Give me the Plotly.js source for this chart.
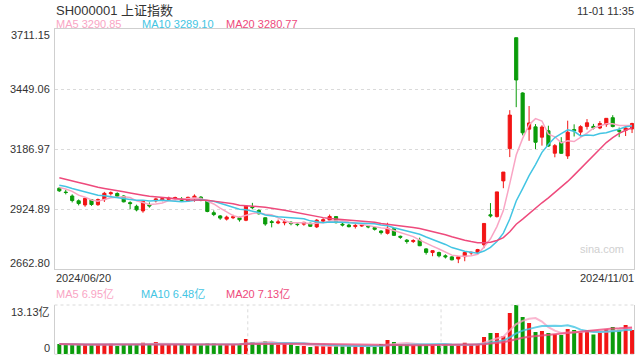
<!DOCTYPE html>
<html><head><meta charset="utf-8">
<script src="https://cdn.plot.ly/plotly-3.0.1.min.js"></script>
<style>html,body{margin:0;padding:0;background:#fff;}#chart{width:640px;height:360px;}</style>
</head><body><div id="chart"></div>
<script>
const dates = ['2024/06/20','2024/06/21','2024/06/24','2024/06/25','2024/06/26','2024/06/27','2024/06/28',
'2024/07/01','2024/07/02','2024/07/03','2024/07/04','2024/07/05','2024/07/08','2024/07/09','2024/07/10','2024/07/11','2024/07/12','2024/07/15','2024/07/16','2024/07/17','2024/07/18','2024/07/19','2024/07/22','2024/07/23','2024/07/24','2024/07/25','2024/07/26','2024/07/29','2024/07/30','2024/07/31',
'2024/08/01','2024/08/02','2024/08/05','2024/08/06','2024/08/07','2024/08/08','2024/08/09','2024/08/12','2024/08/13','2024/08/14','2024/08/15','2024/08/16','2024/08/19','2024/08/20','2024/08/21','2024/08/22','2024/08/23','2024/08/26','2024/08/27','2024/08/28','2024/08/29','2024/08/30',
'2024/09/02','2024/09/03','2024/09/04','2024/09/05','2024/09/06','2024/09/09','2024/09/10','2024/09/11','2024/09/12','2024/09/13','2024/09/18','2024/09/19','2024/09/20','2024/09/23','2024/09/24','2024/09/25','2024/09/26','2024/09/27','2024/09/30',
'2024/10/08','2024/10/09','2024/10/10','2024/10/11','2024/10/14','2024/10/15','2024/10/16','2024/10/17','2024/10/18','2024/10/21','2024/10/22','2024/10/23','2024/10/24','2024/10/25','2024/10/28','2024/10/29','2024/10/30','2024/10/31','2024/11/01'];

const opens = [3017,3000,2983,2962,2944,2967,2945,
2967,2993,2994,2983,2954,2938,2918,2945,2962,2966,2968,2970,2970,2961,2975,2978,2962,2910,2896,2882,2888,2888,2877,
2935,2920,2888,2871,2865,2866,2868,2860,2860,2864,2848,2873,2878,2893,2860,2856,2850,2852,2851,2845,2830,2820,
2840,2807,2790,2784,2790,2752,2736,2736,2722,2717,2708,2718,2734,2736,2770,2901,2893,3049,3190,
3674.40,3433,3275,3285,3240,3268,3170,3218,3158,3273,3262,3287,3287,3280,3295,3325,3270,3270,3276];

const highs = [3022,3010,2990,2968,2975,2970,2972,
3001,3003,2999,2986,2960,2945,2962,2955,2975,2977,2980,2980,2978,2980,2990,2983,2965,2920,2900,2897,2901,2893,2940,
2953,2925,2889,2878,2880,2882,2873,2864,2870,2866,2882,2886,2902,2895,2866,2861,2860,2865,2856,2848,2833,2866,
2843,2810,2795,2794,2801,2755,2746,2740,2728,2720,2720,2741,2740,2752,2863.13,2952,3000.95,3087.53,3358,
3674.40,3436,3376,3297,3292,3290,3210,3240,3312,3296,3292,3319,3298,3310,3323,3336,3282,3290,3303];

const lows = [3001,2990,2955,2942,2936,2940,2940,
2957,2985,2975,2955,2925,2916,2910,2932,2955,2960,2961,2964,2958,2958,2958,2960,2912,2895,2879,2876,2882,2871,2873,
2925,2902,2853,2846,2860,2855,2855,2851,2853,2848,2843,2869,2874,2863,2850,2846,2841,2848,2842,2832,2815,2815,
2809,2796,2775,2778,2764,2727,2720,2715,2710,2702,2689.70,2698,2726,2726,2755,2889,2889,3017,3153,
3371,3248,3224,3188,3203,3198,3152,3168,3145,3243,3245,3273,3274,3275,3285,3283,3240,3245,3258];

const closes = [3005.44,2998.14,2963.10,2950.00,2972.53,2945.85,2967.40,
2994.73,2997.01,2982.38,2957.57,2949.93,2922.45,2959.37,2939.36,2970.39,2971.30,2974.01,2976.30,2962.92,2977.13,2982.31,2964.22,2915.37,2901.95,2886.43,2890.90,2891.85,2879.30,2938.75,
2932.39,2905.34,2860.70,2867.28,2869.90,2869.83,2862.19,2858.20,2867.95,2850.65,2877.36,2879.43,2893.67,2866.66,2856.59,2848.77,2854.37,2855.52,2848.30,2837.43,2823.11,2842.21,
2811.04,2802.98,2784.28,2788.31,2765.81,2736.49,2744.19,2721.80,2717.12,2704.09,2717.28,2736.02,2736.81,2748.92,2863.13,2896.31,3000.95,3087.53,3336.50,
3489.78,3258.86,3301.93,3217.74,3284.32,3201.29,3202.95,3169.38,3261.56,3268.11,3285.87,3302.80,3280.26,3299.70,3322.20,3286.41,3266.24,3279.82,3299.59];

// closes of the 19 sessions before 2024/06/20 (for moving-average warm-up)
const priorCloses = [3116.39,3088.87,3124.04,3109.57,3111.02,3091.68,3086.81,3078.49,3091.20,3065.40,3048.79,3051.28,3028.05,3037.47,3028.92,3032.63,3015.89,3030.25,3018.05];

// volume, 亿
const volumes = [2.75,2.6,2.6,2.6,2.65,2.6,2.6,
2.75,2.8,2.2,2.75,2.6,2.6,3.1,2.6,3.3,2.6,2.6,2.6,2.6,2.6,2.65,2.55,2.85,2.9,2.6,2.6,2.6,2.6,4.05,
3.3,2.9,3.5,2.9,2.55,2.85,2.9,2.2,2.2,1.95,2.3,2.35,2.35,2.35,2.25,2.2,2.2,2.2,2.05,2.05,2.75,3.8,
3.27,2.55,2.55,2.4,2.55,2.55,2.55,2.4,2.55,2.4,2.4,3.1,2.6,2.6,4.6,5.67,5.67,4.87,11.0,
13.13,9.93,8.33,5.94,6.2,5.67,5.33,5.15,6.74,6.5,5.9,6.5,5.3,5.77,6.6,7.27,6.55,7.8,6.5];

const priceTicks = [3711.15,3449.06,3186.97,2924.89,2662.80];
const volTickLabels = ['13.13亿','0'];
const priceLegend = ['MA5 3290.85','MA10 3289.10','MA20 3280.77'];
const volLegend = ['MA5 6.95亿','MA10 6.48亿','MA20 7.13亿'];
const headerTitle = 'SH000001 上证指数';
const headerTime = '11-01 11:35';

const UP = '#f21515', DOWN = '#0a9c0a';
const C5 = '#f9a5c4', C10 = '#43c5e3', C20 = '#ee4a7c';
const FONT = 'Arial, "Liberation Sans", "Noto Sans CJK SC", sans-serif';

function ma(series, n, prior) {
  const all = (prior || []).concat(series);
  const off = all.length - series.length;
  return series.map((_, i) => {
    const end = off + i;
    const start = Math.max(0, end - n + 1);
    let s = 0;
    for (let k = start; k <= end; k++) s += all[k];
    return s / (end - start + 1);
  });
}

const idx = dates.map((_, i) => i);
const volColors = closes.map((c, i) => c >= opens[i] ? UP : DOWN);

const traces = [
  {type:'candlestick', x: idx, open: opens, high: highs, low: lows, close: closes,
   increasing:{line:{color:UP,width:1}, fillcolor:UP}, decreasing:{line:{color:DOWN,width:1}, fillcolor:DOWN},
   whiskerwidth:0, xaxis:'x', yaxis:'y', hoverinfo:'skip'},
  {type:'scatter', mode:'lines', x: idx, y: ma(closes,5,priorCloses), line:{color:C5,width:1.5}, xaxis:'x', yaxis:'y', hoverinfo:'skip'},
  {type:'scatter', mode:'lines', x: idx, y: ma(closes,10,priorCloses), line:{color:C10,width:1.5}, xaxis:'x', yaxis:'y', hoverinfo:'skip'},
  {type:'scatter', mode:'lines', x: idx, y: ma(closes,20,priorCloses), line:{color:C20,width:1.5}, xaxis:'x', yaxis:'y', hoverinfo:'skip'},
  {type:'bar', x: idx, y: volumes, marker:{color: volColors, line:{width:0}}, width:0.62, xaxis:'x2', yaxis:'y2', hoverinfo:'skip'},
  {type:'scatter', mode:'lines', x: idx, y: ma(volumes,5), line:{color:C5,width:2}, opacity:0.8, xaxis:'x2', yaxis:'y2', hoverinfo:'skip'},
  {type:'scatter', mode:'lines', x: idx, y: ma(volumes,10), line:{color:C10,width:2}, opacity:0.8, xaxis:'x2', yaxis:'y2', hoverinfo:'skip'},
  {type:'scatter', mode:'lines', x: idx, y: ma(volumes,20), line:{color:C20,width:2}, opacity:0.8, xaxis:'x2', yaxis:'y2', hoverinfo:'skip'}
];

const W = 640, H = 360;
const px = v => v / W, py = v => 1 - v / H;
const xdom = [px(54.5), px(634.3)];
const xr = [-0.75, 89.35];
const GRID = '#dadada', BORDER = '#cfcfcf';

function ann(text, x, y, xanchor, size, color) {
  return {text, x: px(x), y: py(y), xref:'paper', yref:'paper', xanchor, yanchor:'middle',
    showarrow:false, font:{family:FONT, size, color}, borderpad:0};
}

const annotations = [
  ann(headerTitle, 55, 10.5, 'left', 13, '#333'),
  ann(headerTime, 634.5, 10.5, 'right', 11, '#333'),
  ann(priceLegend[0], 55, 24, 'left', 11, C5),
  ann(priceLegend[1], 141, 24, 'left', 11, C10),
  ann(priceLegend[2], 225, 24, 'left', 11, C20),
  ann(priceTicks[0].toFixed(2), 51, 35, 'right', 11, '#333'),
  ann(priceTicks[1].toFixed(2), 51, 89.3, 'right', 11, '#333'),
  ann(priceTicks[2].toFixed(2), 51, 149.3, 'right', 11, '#333'),
  ann(priceTicks[3].toFixed(2), 51, 209.3, 'right', 11, '#333'),
  ann(priceTicks[4].toFixed(2), 51, 263, 'right', 11, '#333'),
  ann(dates[0], 55, 277.5, 'left', 11, '#333'),
  ann(dates[dates.length-1], 634.5, 277.5, 'right', 11, '#333'),
  ann(volLegend[0], 55, 294, 'left', 11, C5),
  ann(volLegend[1], 140, 294, 'left', 11, C10),
  ann(volLegend[2], 225, 294, 'left', 11, C20),
  ann(volTickLabels[0], 51, 311.7, 'right', 11, '#333'),
  ann(volTickLabels[1], 51, 348, 'right', 11, '#333'),
  ann('sina.com', 602, 249, 'center', 11, '#d0d0d0')
];

const shapes = [
  {type:'line', xref:'x2 domain', yref:'y2 domain', x0:0, x1:1, y0:1, y1:1, line:{color:GRID,width:1,dash:'dot'}},
  {type:'line', xref:'x2 domain', yref:'y2 domain', x0:0, x1:1, y0:0, y1:0, line:{color:GRID,width:1,dash:'dot'}},
  {type:'line', xref:'x2 domain', yref:'y2 domain', x0:1/3, x1:1/3, y0:0, y1:1, line:{color:GRID,width:1,dash:'dot'}},
  {type:'line', xref:'x2 domain', yref:'y2 domain', x0:2/3, x1:2/3, y0:0, y1:1, line:{color:GRID,width:1,dash:'dot'}}
];

const layout = {
  width: W, height: H, margin:{l:0,r:0,t:0,b:0}, paper_bgcolor:'#fff', plot_bgcolor:'#fff',
  showlegend:false, dragmode:false,
  xaxis:{domain:xdom, range:xr, anchor:'y', showticklabels:false, showgrid:false, zeroline:false,
    showline:true, mirror:true, linecolor:BORDER, linewidth:1, ticks:'', rangeslider:{visible:false}, fixedrange:true},
  yaxis:{domain:[py(269.3), py(29.3)], range:[priceTicks[4], priceTicks[0]], anchor:'x',
    tickvals: priceTicks.slice(1,4), showticklabels:false, showgrid:true, gridcolor:GRID, griddash:'dot', gridwidth:1,
    zeroline:false, showline:true, mirror:true, linecolor:BORDER, linewidth:1, ticks:'', fixedrange:true},
  xaxis2:{domain:xdom, range:xr, anchor:'y2', showticklabels:false, showgrid:false, zeroline:false, showline:false, ticks:'', fixedrange:true},
  yaxis2:{domain:[py(354.3), py(305)], range:[0, 13.13], anchor:'x2', showticklabels:false, showgrid:false, zeroline:false,
    showline:true, mirror:true, linecolor:BORDER, linewidth:1, ticks:'', fixedrange:true},
  annotations, shapes
};

Plotly.newPlot('chart', traces, layout, {displayModeBar:false, staticPlot:true});
</script>
</body></html>
